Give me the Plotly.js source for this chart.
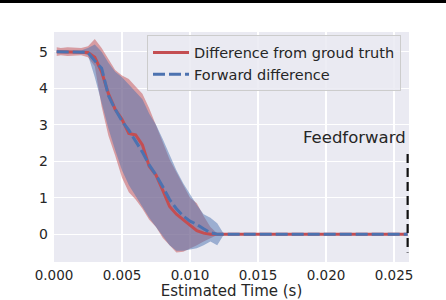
<!DOCTYPE html>
<html>
<head>
<meta charset="utf-8">
<script src="https://cdn.plot.ly/plotly-3.0.1.min.js"></script>
<style>html,body{margin:0;padding:0;background:#fff;}#chart{width:446px;height:300px;}</style>
</head>
<body>
<div id="chart"></div>
<script>
// Estimated time (s)
var time = [0.0002, 0.0005, 0.001, 0.0015, 0.002, 0.0025, 0.003, 0.0035, 0.004, 0.0045,
            0.005, 0.0055, 0.006, 0.0065, 0.007, 0.0075, 0.008, 0.0085, 0.009, 0.0095,
            0.01, 0.0105, 0.011, 0.0115, 0.012, 0.0125, 0.015, 0.02, 0.026];

// Difference from ground truth (mean, lower, upper)
var gtMean  = [5.0, 5.0, 5.0, 5.0, 5.0, 4.98, 4.85, 4.45, 3.85, 3.42,
               3.15, 2.76, 2.72, 2.45, 1.86, 1.62, 1.2, 0.76, 0.55, 0.4,
               0.25, 0.1, 0.03, 0.0, 0.0, 0.0, 0.0, 0.0, 0.0];
var gtLower = [4.88, 4.9, 4.88, 4.9, 4.9, 4.85, 4.6, 3.5, 2.7, 2.15,
               1.55, 1.15, 0.95, 0.7, 0.4, 0.2, -0.1, -0.3, -0.5, -0.48,
               -0.4, -0.3, -0.2, -0.1, -0.02, 0.0, 0.0, 0.0, 0.0];
var gtUpper = [5.12, 5.1, 5.12, 5.1, 5.1, 5.15, 5.35, 5.1, 4.8, 4.5,
               4.35, 4.25, 4.05, 3.85, 3.45, 3.0, 2.5, 2.05, 1.7, 1.35,
               1.0, 0.85, 0.5, 0.2, 0.02, 0.0, 0.0, 0.0, 0.0];

// Forward difference (mean, lower, upper)
var fdMean  = [5.0, 5.0, 5.0, 5.0, 5.0, 4.98, 4.75, 4.55, 3.8, 3.42,
               3.1, 2.85, 2.55, 2.25, 1.9, 1.62, 1.3, 0.95, 0.7, 0.5,
               0.36, 0.27, 0.15, 0.04, 0.0, 0.0, 0.0, 0.0, 0.0];
var fdLower = [4.97, 4.97, 4.97, 4.97, 4.97, 4.9, 4.3, 3.6, 2.9, 2.3,
               1.75, 1.35, 1.05, 0.75, 0.45, 0.2, -0.05, -0.3, -0.45, -0.45,
               -0.42, -0.38, -0.3, -0.2, -0.3, 0.0, 0.0, 0.0, 0.0];
var fdUpper = [5.03, 5.03, 5.03, 5.03, 5.03, 5.1, 5.2, 5.0, 4.7, 4.45,
               4.3, 4.1, 3.9, 3.7, 3.3, 3.0, 2.6, 2.15, 1.75, 1.4,
               1.1, 0.8, 0.55, 0.45, 0.3, 0.0, 0.0, 0.0, 0.0];

// Feedforward marker
var ffX = [0.026, 0.026];
var ffY = [2.2, -0.5];
var ffLabel = "Feedforward";

var xTicks = [0, 0.005, 0.01, 0.015, 0.02, 0.025];
var xTickText = ["0.000", "0.005", "0.010", "0.015", "0.020", "0.025"];
var yTicks = [0, 1, 2, 3, 4, 5];

var names = ["Difference from groud truth", "Forward difference"];
var red = "#c44e52", blue = "#4c72b0";

function band(x, lo, hi, color) {
  return [
    {x: x, y: lo, mode: "lines", line: {width: 0, color: color}, showlegend: false, hoverinfo: "skip"},
    {x: x, y: hi, mode: "lines", line: {width: 0, color: color}, fill: "tonexty",
     fillcolor: color, showlegend: false, hoverinfo: "skip"}
  ];
}

var data = []
  .concat(band(time, gtLower, gtUpper, "rgba(196,78,82,0.5)"))
  .concat(band(time, fdLower, fdUpper, "rgba(76,114,176,0.5)"))
  .concat([
    {x: time, y: gtMean, mode: "lines", name: names[0], line: {color: red, width: 3}},
    {x: time, y: fdMean, mode: "lines", name: names[1], line: {color: blue, width: 3, dash: "12px,4px"}},
    {x: ffX, y: ffY, mode: "lines", showlegend: false, line: {color: "#111111", width: 2.2, dash: "9px,5px"}}
  ]);

var font = {family: "DejaVu Sans, sans-serif", color: "#262626"};

var layout = {
  width: 446, height: 300,
  margin: {l: 54, r: 37, t: 32, b: 38},
  paper_bgcolor: "#ffffff",
  plot_bgcolor: "#eaeaf2",
  font: {family: font.family, size: 14, color: font.color},
  showlegend: true,
  legend: {
    x: 0.262, y: 0.985, xanchor: "left", yanchor: "top",
    traceorder: "normal", itemwidth: 36,
    bgcolor: "rgba(234,234,242,0.85)", bordercolor: "#cccccc", borderwidth: 1,
    font: {family: font.family, size: 14.5, color: font.color},
    tracegroupgap: 0
  },
  xaxis: {
    range: [0, 0.0261], tickvals: xTicks, ticktext: xTickText,
    showgrid: true, gridcolor: "#ffffff", gridwidth: 1.2,
    zeroline: false, showline: false, ticks: "", ticklabelstandoff: 3,
    tickfont: {family: font.family, size: 13.5, color: font.color},
    title: {text: "Estimated Time (s)", font: {family: font.family, size: 15, color: font.color}, standoff: 2}
  },
  yaxis: {
    range: [-0.76, 5.54], tickvals: yTicks,
    showgrid: true, gridcolor: "#ffffff", gridwidth: 1.2,
    zeroline: false, showline: false, ticks: "", ticklabelstandoff: 5,
    tickfont: {family: font.family, size: 14, color: font.color}
  },
  annotations: [{
    x: ffX[0], y: 2.66, xref: "x", yref: "y", text: ffLabel, showarrow: false,
    xanchor: "right", yanchor: "middle",
    font: {family: font.family, size: 16.5, color: font.color}
  }],
  shapes: [{
    type: "rect", xref: "paper", yref: "paper",
    x0: -0.16, x1: 1.11, y0: 1.126, y1: 1.15,
    fillcolor: "#000000", line: {width: 0}, layer: "above"
  }]
};

Plotly.newPlot("chart", data, layout, {staticPlot: true, displayModeBar: false});
</script>
</body>
</html>
